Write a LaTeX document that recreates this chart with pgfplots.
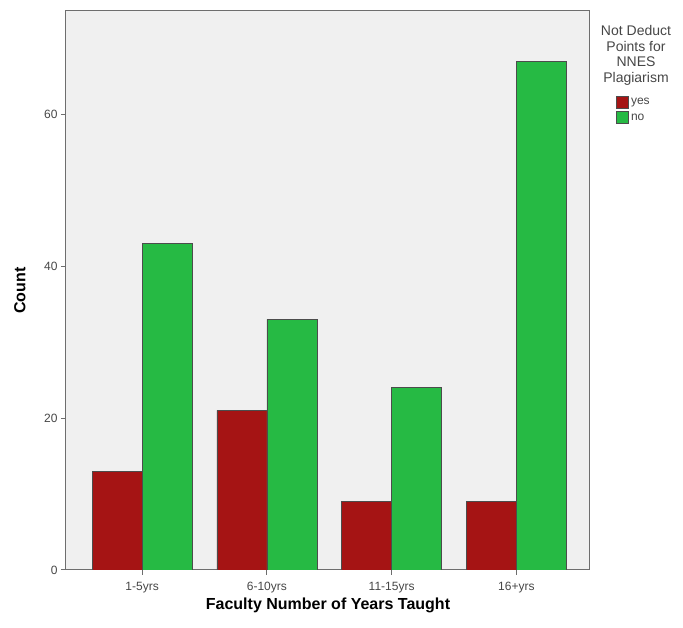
\documentclass[border=0pt]{standalone}
\usepackage{pgfplots}
\pgfplotsset{compat=1.18}
\usepackage{fontspec}
\setmainfont{Liberation Sans}
\definecolor{barred}{RGB}{165,20,20}
\definecolor{bargreen}{RGB}{38,186,68}
\definecolor{plotbg}{RGB}{240,240,240}
\definecolor{axgray}{RGB}{110,110,110}
\definecolor{txtgray}{RGB}{70,70,70}
\begin{document}
\begin{tikzpicture}
  \begin{axis}[
    at={(66pt,58pt)}, anchor=south west,
    scale only axis,
    width=524pt, height=559pt,
    ybar=0pt, bar width=50pt,
    xmin=-0.61, xmax=3.59,
    ymin=0, ymax=73.6,
    xtick=data,
    xticklabels={1-5yrs,6-10yrs,11-15yrs,16+yrs},
    ytick={0,20,40,60},
    tick align=outside,
    major tick length=5pt,
    xtick pos=bottom, ytick pos=left,
    axis line style={axgray, line width=1pt},
    tick style={axgray, line width=1pt},
    axis background/.style={fill=plotbg},
    /pgf/number format/assume math mode=true,
    tick label style={font=\fontsize{12}{14}\selectfont, text=txtgray},
    xticklabel style={yshift=-4pt},
    xlabel={\textbf{Faculty Number of Years Taught}},
    ylabel={\textbf{Count}},
    label style={font=\fontsize{16}{18}\selectfont},
    xlabel style={at={(axis description cs:0.5,-0.063)}, anchor=center},
    ylabel style={at={(axis description cs:-0.088,0.5)}, anchor=center},
    legend style={at={(axis description cs:1.05,0.848)}, anchor=north west,
      draw=none, fill=none, font=\fontsize{12}{14}\selectfont, text=txtgray,
      row sep=3pt, inner sep=0pt},
    legend cell align=left,
    legend image code/.code={\draw[#1] (0pt,-5.5pt) rectangle (12pt,6pt);},
  ]
    \addplot[fill=barred, draw=black!70, line width=0.6pt]
      coordinates {(0,13) (1,21) (2,9) (3,9)};
    \addplot[fill=bargreen, draw=black!70, line width=0.6pt]
      coordinates {(0,43) (1,33) (2,24) (3,67)};
    \legend{yes,no}
  \end{axis}
  \node[align=center, font=\fontsize{14}{15.5}\selectfont, text=txtgray, anchor=north]
    at (636pt,628pt-22pt) {Not Deduct\\Points for\\NNES\\Plagiarism};
  \pgfresetboundingbox
  \path[use as bounding box] (0,0) rectangle (683pt,628pt);
\end{tikzpicture}
\end{document}
